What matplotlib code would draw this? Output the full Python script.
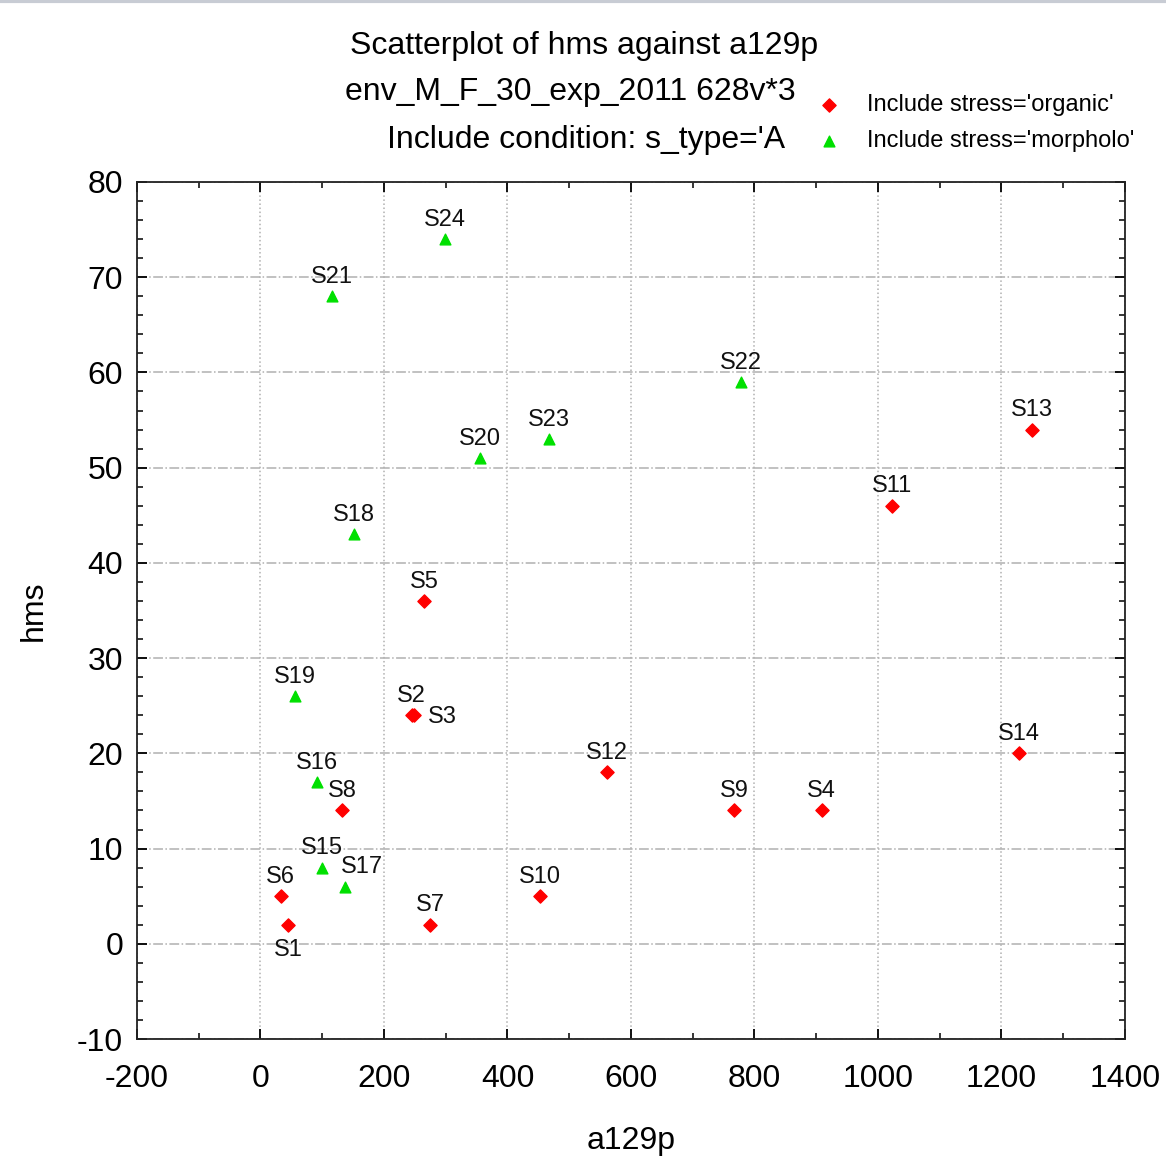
import matplotlib as mpl
mpl.use('Agg')
import matplotlib.pyplot as plt
from matplotlib.ticker import MultipleLocator

plt.rcParams['font.family'] = ['Liberation Sans', 'DejaVu Sans']
plt.rcParams['axes.unicode_minus'] = False

# organic stress samples
org_names = ["S1", "S2", "S3", "S4", "S5", "S6", "S7", "S8", "S9", "S10", "S11", "S12", "S13", "S14"]
org_x = [45, 245, 249, 909, 265, 33, 275, 132, 767, 453, 1023, 561, 1250, 1228]
org_y = [2, 24, 24, 14, 36, 5, 2, 14, 14, 5, 46, 18, 54, 20]

# morphological stress samples
mor_names = ["S15", "S16", "S17", "S18", "S19", "S20", "S21", "S22", "S23", "S24"]
mor_x = [100, 92, 137, 151, 56, 356, 116, 778, 467, 299]
mor_y = [8, 17, 6, 43, 26, 51, 68, 59, 53, 74]

# label placement (points offset, alignment) where it is not simply above
special = {
    "S1": ((0, -10), 'center', 'top'),
    "S3": ((10, -1), 'left', 'center'),
    "S17": ((-3, 6), 'left', 'bottom'),
}

fig = plt.figure(figsize=(11.66, 11.68), dpi=100)
ax = fig.add_axes([0.1175, 0.1104, 0.8473, 0.7338])

h1 = ax.scatter(org_x, org_y, marker='D', s=45, color='#ff0000', zorder=3,
                label="Include stress='organic'")
h2 = ax.scatter(mor_x, mor_y, marker='^', s=60, color='#00e000', zorder=3,
                label="Include stress='morpholo'")

for names, xs, ys in [(org_names, org_x, org_y), (mor_names, mor_x, mor_y)]:
    for n, x, y in zip(names, xs, ys):
        off, ha, va = special.get(n, ((0, 6), 'center', 'bottom'))
        ax.annotate(n, (x, y), xytext=off, textcoords='offset points',
                    ha=ha, va=va, fontsize=17, color='#111111')

ax.set_xlim(-200, 1400)
ax.set_ylim(-10, 80)
ax.xaxis.set_major_locator(MultipleLocator(200))
ax.xaxis.set_minor_locator(MultipleLocator(100))
ax.yaxis.set_major_locator(MultipleLocator(10))
ax.yaxis.set_minor_locator(MultipleLocator(2))
ax.tick_params(which='both', direction='in', top=True, right=True, labelsize=23)
ax.tick_params(axis='x', pad=18)
ax.tick_params(axis='y', pad=10)
ax.tick_params(which='major', length=7, width=1.3)
ax.tick_params(which='minor', length=4, width=1.1)
for sp in ax.spines.values():
    sp.set_linewidth(1.3)
    sp.set_color('#222222')

ax.xaxis.grid(True, linestyle=':', color='#b0b0b0', linewidth=1.1)
ax.yaxis.grid(True, linestyle='-.', color='#b0b0b0', linewidth=1.1)
ax.set_axisbelow(True)

ax.set_xlabel("a129p", fontsize=23, labelpad=23)
ax.set_ylabel("hms", fontsize=23, labelpad=20)

fig.text(0.501, 1 - 46 / 1168, "Scatterplot of hms against a129p", ha='center', va='center', fontsize=23)
fig.text(345 / 1166, 1 - 92 / 1168, "env_M_F_30_exp_2011 628v*3", ha='left', va='center', fontsize=23)
fig.text(0.503, 1 - 140 / 1168, "Include condition: s_type='A", ha='center', va='center', fontsize=23)

fig.legend(handles=[h1, h2], loc='upper left', bbox_to_anchor=(808 / 1166, 1 - 85 / 1168),
           frameon=False, fontsize=17, handletextpad=1.1, labelspacing=0.58,
           handlelength=1.0, borderaxespad=0)

fig.add_artist(plt.Line2D([0, 1], [0.999, 0.999], transform=fig.transFigure,
                          color='#c8ccd4', linewidth=3))

fig.savefig('out.png', dpi=100)
